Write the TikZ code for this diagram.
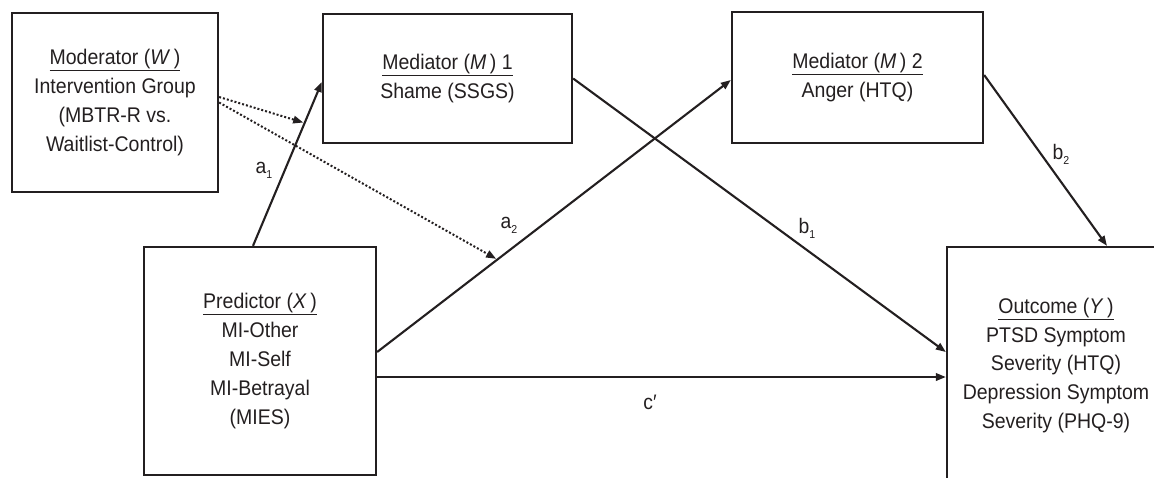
\documentclass[tikz,border=0pt]{standalone}
\usepackage{fontspec}
\setmainfont{Liberation Sans}[FakeStretch=0.92]
\usetikzlibrary{arrows.meta,calc}
\definecolor{ink}{HTML}{231F20}
% path label with a lowered small index
\newcommand{\pathlbl}[2]{#1\raisebox{-5pt}{\fontsize{11.5}{11.5}\selectfont #2}}
\begin{document}
\begin{tikzpicture}[x=1pt,y=-1pt,
  box/.style={draw=ink, line width=2.3pt, rectangle, inner sep=0pt, align=center,
    text=ink, font=\fontsize{21.2}{28.8}\selectfont},
  effect/.style={draw=ink, line width=2.1pt, -{Triangle[length=10pt,width=7.5pt]}},
  moderation/.style={draw=ink, line width=2pt, dash pattern=on 2pt off 2pt,
    shorten >=1.5pt, -{Triangle[length=10pt,width=7.5pt]}},
  lab/.style={text=ink, font=\fontsize{21}{21}\selectfont, inner sep=0pt}]
\path[use as bounding box, clip] (0,0) rectangle (1154,477);

% variables
\node[box, minimum width=206pt, minimum height=179pt] (W) at (115,102.5)
  {\underline{Moderator (\textit{W}\,)}\\ Intervention Group\\ (MBTR-R vs.\\ Waitlist-Control)};
\node[box, minimum width=249pt, minimum height=129pt] (M1) at (447.5,78.5)
  {\underline{Mediator (\textit{M}\,) 1}\\ Shame (SSGS)};
\node[box, minimum width=251pt, minimum height=131pt] (M2) at (857.5,77.5)
  {\underline{Mediator (\textit{M}\,) 2}\\ Anger (HTQ)};
\node[box, minimum width=232pt, minimum height=228pt] (X) at (260,361)
  {\underline{Predictor (\textit{X}\,)}\\ MI-Other\\ MI-Self\\ MI-Betrayal\\ (MIES)};
\node[box, minimum width=218pt, minimum height=237pt] (Y) at (1056,365.5)
  {\underline{Outcome (\textit{Y}\,)}\\ PTSD Symptom\\ Severity (HTQ)\\ Depression Symptom\\ Severity (PHQ-9)};

% direct and indirect paths
\draw[effect] ([xshift=-7pt]X.north) -- coordinate[pos=0.75] (m1) ([yshift=-3.5pt]M1.west);
\draw[effect] ([yshift=9pt]X.east) -- coordinate[pos=0.34] (m2) ([yshift=-2.5pt]M2.west);
\draw[effect] (M1.east) -- ([yshift=13.5pt]Y.west);
\draw[effect] ([yshift=2.5pt]M2.east) -- ([xshift=51pt]Y.north);
\draw[effect] ([yshift=-16pt]X.east) -- ([yshift=-16pt]X.east -| Y.west);

% moderation of the a paths
\draw[moderation] ([yshift=5.5pt]W.east) -- (m1);
\draw[moderation] (W.east) -- (m2);

% path labels
\node[lab] (la1) at (264,170) {\pathlbl{a}{1}};
\node[lab] (la2) at (509,225) {\pathlbl{a}{2}};
\node[lab] (lb1) at (807,228) {\pathlbl{b}{1}};
\node[lab] (lb2) at (1061,154) {\pathlbl{b}{2}};
\node[lab] (lc) at (650,402) {c′};
\end{tikzpicture}
\end{document}
